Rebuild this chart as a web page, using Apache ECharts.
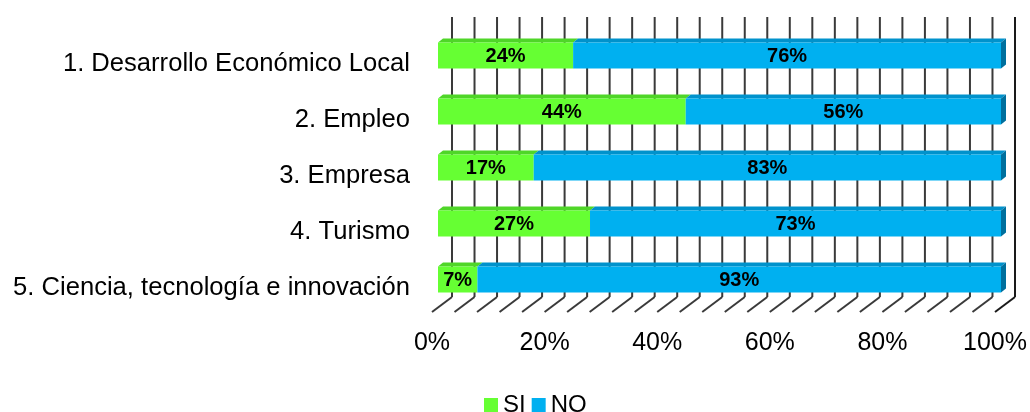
<!DOCTYPE html>
<html>
<head>
<meta charset="utf-8">
<script src="https://cdn.jsdelivr.net/npm/echarts@6/dist/echarts.min.js"></script>
<style>html,body{margin:0;padding:0;background:#fff}#c{width:1030px;height:412px}</style>
</head>
<body>
<div id="c"></div>
<script>
const categories = ['1. Desarrollo Económico Local', '2. Empleo', '3. Empresa', '4. Turismo', '5. Ciencia, tecnología e innovación'];
const siValues = [24, 44, 17, 27, 7];
const noValues = [76, 56, 83, 73, 93];
const gridTicks = [0,4,8,12,16,20,24,28,32,36,40,44,48,52,56,60,64,68,72,76,80,84,88,92,96,100];
const xTickLabels = ['0%','20%','40%','60%','80%','100%'];

const FONT = 'Arial, "Liberation Sans", sans-serif';
const BAR_DX = 6, BAR_DY = -4.5, BAR_H = 26, DEPTH_X = 5, DEPTH_Y = -4;
const WALL_DX = 20, WALL_DY = -15;

function barRenderer(colors, withSide) {
  return function (params, api) {
    const s = api.coord([api.value(0), api.value(2)]);
    const e = api.coord([api.value(1), api.value(2)]);
    const x = s[0] + BAR_DX;
    const w = e[0] - s[0];
    const y0 = s[1] + BAR_DY - BAR_H / 2;
    const children = [
      {type: 'polygon', shape: {points: [[x, y0], [x + DEPTH_X, y0 + DEPTH_Y], [x + w + DEPTH_X, y0 + DEPTH_Y], [x + w, y0]]},
       style: {fill: colors.top}},
      {type: 'rect', shape: {x: x, y: y0, width: w, height: BAR_H}, style: {fill: colors.front}}
    ];
    if (withSide) {
      children.push({type: 'polygon', shape: {points: [[x + w, y0], [x + w + DEPTH_X, y0 + DEPTH_Y], [x + w + DEPTH_X, y0 + BAR_H + DEPTH_Y], [x + w, y0 + BAR_H]]},
        style: {fill: colors.side}});
    }
    children.push({type: 'text', style: {text: api.value(3) + '%', x: x + w / 2, y: y0 + BAR_H / 2 + 1,
      textAlign: 'center', textVerticalAlign: 'middle', font: 'bold 20px ' + FONT, fill: '#000'}});
    return {type: 'group', children: children};
  };
}

function wallRenderer(params, api) {
  const v = api.value(0);
  const top = api.coord([v, 0]);
  const bot = api.coord([v, categories.length - 1]);
  const band = api.size([0, 1])[1];
  const x = top[0];
  const floorY = bot[1] + band / 2;
  const topY = top[1] - band / 2;
  const last = v === gridTicks[gridTicks.length - 1];
  const stroke = last ? '#1a1a1a' : '#3a3a3a';
  return {type: 'group', children: [
    {type: 'line', shape: {x1: x, y1: floorY, x2: x + WALL_DX, y2: floorY + WALL_DY}, style: {stroke: stroke, lineWidth: 2}},
    {type: 'line', shape: {x1: x + WALL_DX, y1: floorY + WALL_DY, x2: x + WALL_DX, y2: topY + WALL_DY}, style: {stroke: stroke, lineWidth: 2}}
  ]};
}

const chart = echarts.init(document.getElementById('c'));
chart.setOption({
  animation: false,
  grid: {left: 432, right: 35, top: 32, bottom: 100},
  xAxis: {
    type: 'value', min: 0, max: 100, interval: 20,
    axisLine: {show: false}, axisTick: {show: false}, splitLine: {show: false},
    axisLabel: {margin: 19, fontSize: 25, fontFamily: FONT, color: '#000',
      formatter: function (v) { return xTickLabels[Math.round(v / 20)]; }}
  },
  yAxis: {
    type: 'category', data: categories, inverse: true,
    axisLine: {show: false}, axisTick: {show: false}, splitLine: {show: false},
    axisLabel: {margin: 22, fontSize: 25.6, fontFamily: FONT, color: '#000', verticalAlign: 'top', lineHeight: 8}
  },
  legend: {
    data: ['SI', 'NO'], top: 388, left: 479, icon: 'rect', itemWidth: 14, itemHeight: 14, itemGap: 6,
    textStyle: {fontSize: 24, fontFamily: FONT, color: '#000'}
  },
  series: [
    {type: 'custom', name: 'wall', z: 1, silent: true, renderItem: wallRenderer,
     data: gridTicks.map(function (t) { return [t, 0]; }), encode: {x: 0, y: 1}},
    {type: 'custom', name: 'SI', z: 3, itemStyle: {color: '#66FF33'},
     renderItem: barRenderer({front: '#66FF33', top: '#4FD628', side: '#3DB01E'}, false),
     data: categories.map(function (c, i) { return [0, siValues[i], i, siValues[i]]; }),
     encode: {x: [0, 1], y: 2}},
    {type: 'custom', name: 'NO', z: 3, itemStyle: {color: '#00B0F0'},
     renderItem: barRenderer({front: '#00B0F0', top: '#0092CC', side: '#00709E'}, true),
     data: categories.map(function (c, i) { return [siValues[i], siValues[i] + noValues[i], i, noValues[i]]; }),
     encode: {x: [0, 1], y: 2}}
  ]
});
</script>
</body>
</html>
